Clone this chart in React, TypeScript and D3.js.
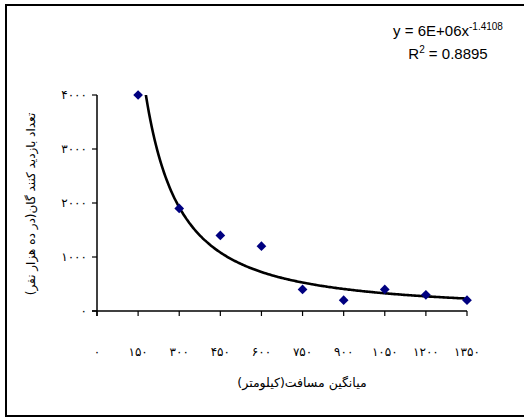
import * as d3 from "d3";

const WIDTH = 524;
const HEIGHT = 417;
const MARGIN = { top: 95, right: 57, bottom: 106, left: 97 };

const toFa = (n: number) =>
  String(n).replace(/\d/g, (d) => "۰۱۲۳۴۵۶۷۸۹"[+d]);

// average distance (km) vs visitors (per 10,000 people)
const DISTANCE = [150, 300, 450, 600, 750, 900, 1050, 1200, 1350];
const VISITORS = [4000, 1900, 1400, 1200, 400, 200, 400, 300, 200];
const X_TICKS = [0, 150, 300, 450, 600, 750, 900, 1050, 1200, 1350];
const Y_TICKS = [0, 1000, 2000, 3000, 4000];

// power trendline shown on the chart
const TREND_COEF = 6e6;
const TREND_EXP = -1.4108;
const TREND_LABEL = "y = 6E+06x";
const TREND_EXP_LABEL = "-1.4108";
const R2_LABEL = "0.8895";

const X_TITLE = "میانگین مسافت(کیلومتر)";
const Y_TITLE = "تعداد بازدید کنند گان(در ده هزار نفر)";

const FA_FONT = "'DejaVu Sans', sans-serif";

export default function App() {
  const boundsW = WIDTH - MARGIN.left - MARGIN.right;
  const boundsH = HEIGHT - MARGIN.top - MARGIN.bottom;

  const x = d3.scaleLinear().domain([0, 1350]).range([0, 370]);
  const y = d3.scaleLinear().domain([0, 4000]).range([boundsH, 0]);

  const trendXs = d3.range(100, 1351, 5);
  const trendLine = d3
    .line<number>()
    .x((d) => x(d))
    .y((d) => y(TREND_COEF * Math.pow(d, TREND_EXP)))
    .curve(d3.curveMonotoneX)(trendXs);

  const diamond = d3.symbol().type(d3.symbolDiamond2).size(60)();

  return (
    <svg
      width={WIDTH}
      height={HEIGHT}
      style={{ position: "absolute", left: 0, top: 0, background: "#fff" }}
    >
      <rect
        x={6}
        y={5}
        width={540}
        height={411}
        fill="#fff"
        stroke="#000"
        strokeWidth={2}
      />
      <defs>
        <clipPath id="plot">
          <rect x={0} y={0} width={boundsW + 20} height={boundsH} />
        </clipPath>
      </defs>
      <g transform={`translate(${MARGIN.left},${MARGIN.top})`}>
        {/* y axis */}
        <line x1={0} x2={0} y1={0} y2={boundsH + 5} stroke="#000" strokeWidth={1.5} />
        {Y_TICKS.map((t) => (
          <g key={t} transform={`translate(0,${y(t)})`}>
            <line x1={-5} x2={0} stroke="#000" strokeWidth={1.2} />
            <text
              x={-10}
              dy="0.35em"
              textAnchor="end"
              fontFamily={FA_FONT}
              fontSize={12}
            >
              {toFa(t)}
            </text>
          </g>
        ))}
        {/* x axis */}
        <line x1={-5} x2={x(1350)} y1={boundsH} y2={boundsH} stroke="#000" strokeWidth={1.5} />
        {X_TICKS.map((t) => (
          <g key={t} transform={`translate(${x(t)},${boundsH})`}>
            <line y1={0} y2={5} stroke="#000" strokeWidth={1.2} />
            <text
              y={45}
              textAnchor="middle"
              fontFamily={FA_FONT}
              fontSize={12}
            >
              {toFa(t)}
            </text>
          </g>
        ))}
        <path
          d={trendLine ?? ""}
          fill="none"
          stroke="#000"
          strokeWidth={2.6}
          clipPath="url(#plot)"
        />
        {DISTANCE.map((d, i) => (
          <path
            key={d}
            d={diamond ?? ""}
            transform={`translate(${x(d)},${y(VISITORS[i])})`}
            fill="#000080"
          />
        ))}
      </g>
      <text
        x={302}
        y={387}
        textAnchor="middle"
        direction="rtl"
        fontFamily={FA_FONT}
        fontSize={12.5}
      >
        {X_TITLE}
      </text>
      <text
        transform="translate(35,204) rotate(-90)"
        textAnchor="middle"
        direction="rtl"
        fontFamily={FA_FONT}
        fontSize={12}
      >
        {Y_TITLE}
      </text>
      <text
        x={448}
        y={36}
        textAnchor="middle"
        fontFamily="'Liberation Sans', Arial, sans-serif"
        fontSize={15}
      >
        {TREND_LABEL}
        <tspan dy={-6} fontSize={10}>
          {TREND_EXP_LABEL}
        </tspan>
      </text>
      <text
        x={448}
        y={59}
        textAnchor="middle"
        fontFamily="'Liberation Sans', Arial, sans-serif"
        fontSize={15}
      >
        R<tspan dy={-6} fontSize={10}>2</tspan>
        <tspan dy={6}> = {R2_LABEL}</tspan>
      </text>
    </svg>
  );
}
